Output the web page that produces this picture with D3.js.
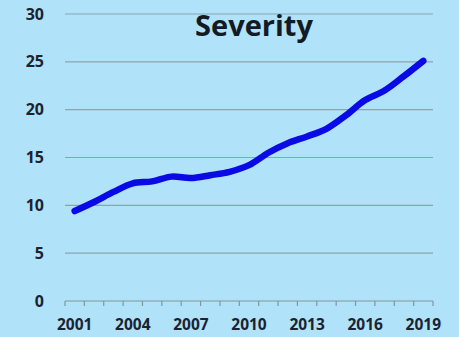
<!DOCTYPE html>
<html><head><meta charset="utf-8">
<script src="https://cdn.jsdelivr.net/npm/d3@7"></script>
<style>html,body{margin:0;padding:0;background:#b0e2fa;overflow:hidden}</style>
</head><body><svg id="c" width="459" height="337"></svg>
<script>
const years = [2001,2002,2003,2004,2005,2006,2007,2008,2009,2010,2011,2012,2013,2014,2015,2016,2017,2018,2019];
const severity = [9.4,10.35,11.4,12.3,12.5,13.0,12.85,13.15,13.5,14.2,15.5,16.5,17.2,18.0,19.4,21.0,22.0,23.5,25.1];
const yTicks = [0,5,10,15,20,25,30];
const xLabelYears = [2001,2004,2007,2010,2013,2016,2019];
const title = "Severity";

(function(){
const svg = d3.select("#c");
const W = 459, H = 337;
svg.append("rect").attr("width",W).attr("height",H).attr("fill","#b0e2fa");
const mL = 65, mR = 433, mT = 14, mB = 301;
const x = d3.scaleBand().domain(years).range([mL,mR]).paddingInner(0).paddingOuter(0);
const y = d3.scaleLinear().domain([0,30]).range([mB,mT]);
const font = "'Open Sans', 'DejaVu Sans', sans-serif";

// gridlines
svg.append("g").selectAll("line").data(yTicks.filter(d=>d>0)).join("line")
  .attr("x1",mL).attr("x2",mR).attr("y1",d=>y(d)).attr("y2",d=>y(d))
  .attr("stroke","#8ba4ad").attr("stroke-width",1.2);

// y labels
const ya = svg.append("g").attr("transform",`translate(${mL},0)`)
  .call(d3.axisLeft(y).tickValues(yTicks).tickSize(0).tickPadding(21));
ya.select(".domain").remove();
ya.selectAll("text").attr("font-family",font).attr("font-weight","bold").attr("font-size",16).attr("fill","#1b2230");

// x axis
const xa = svg.append("g").attr("transform",`translate(0,${mB})`);
xa.append("line").attr("x1",mL).attr("x2",mR).attr("stroke","#7f97a0").attr("stroke-width",1.2);
const bounds = years.map(d=>x(d)).concat([x(years[years.length-1])+x.bandwidth()]);
xa.selectAll("line.t").data(bounds).join("line").attr("class","t")
  .attr("x1",d=>d).attr("x2",d=>d).attr("y1",0).attr("y2",5)
  .attr("stroke","#7f97a0").attr("stroke-width",1.2);
const xl = svg.append("g").attr("transform",`translate(0,${mB})`)
  .call(d3.axisBottom(x).tickValues(xLabelYears).tickSize(0).tickPadding(18).tickFormat(d3.format("d")));
xl.select(".domain").remove();
xl.selectAll("text").attr("font-family",font).attr("font-weight","bold").attr("font-size",15.5).attr("fill","#1b2230");

// line
const line = d3.line().x((d,i)=>x(years[i])+x.bandwidth()/2).y(d=>y(d)).curve(d3.curveCatmullRom.alpha(0.5));
svg.append("path").datum(severity).attr("d",line).attr("fill","none")
  .attr("stroke","#0a0ae6").attr("stroke-width",6.5).attr("stroke-linecap","round").attr("stroke-linejoin","round");

// title
svg.append("text").attr("x",254).attr("y",36).attr("text-anchor","middle")
  .attr("font-family",font).attr("font-weight","bold").attr("font-size",29).attr("fill","#141a24").text(title);
})();
</script></body></html>
